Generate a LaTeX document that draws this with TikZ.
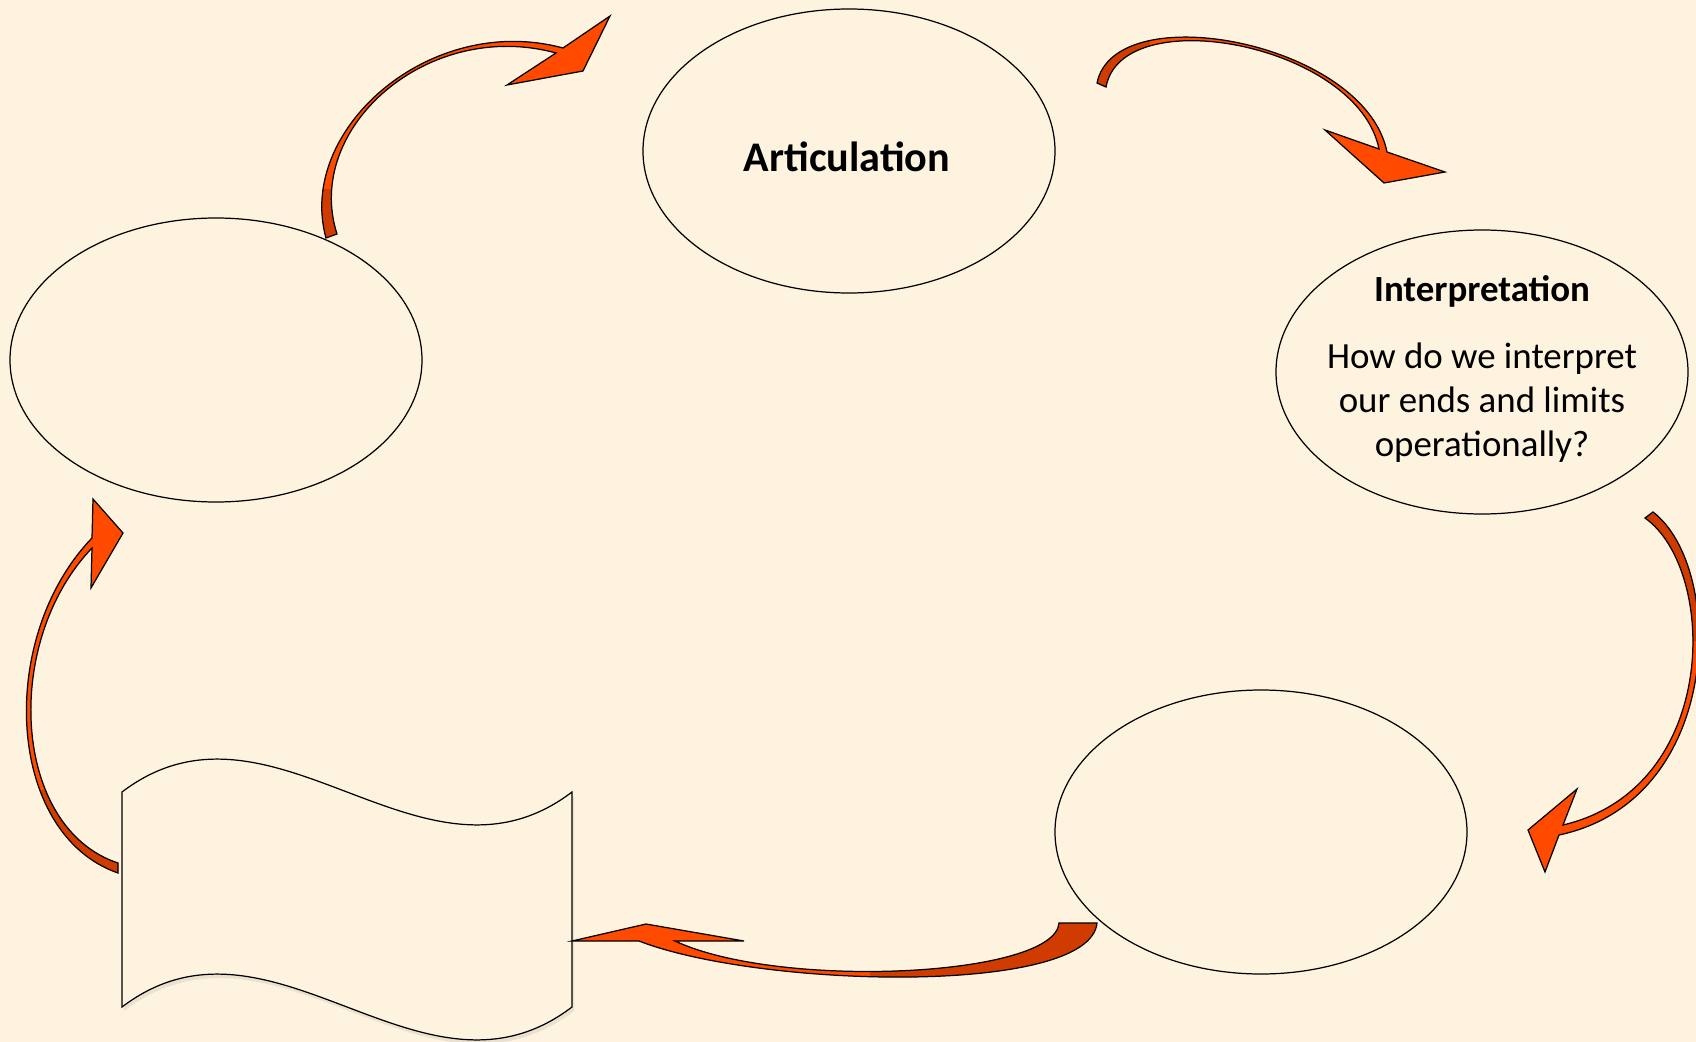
\documentclass[tikz,border=0pt]{standalone}
\usepackage{fontspec}
\setmainfont{Carlito}
\usetikzlibrary{shapes,shadows,positioning}
\definecolor{paper}{RGB}{254,243,223}
\definecolor{arrowred}{RGB}{255,74,0}
\definecolor{arrowdark}{RGB}{208,60,0}

\begin{document}
\begin{tikzpicture}[x=0.2mm,y=-0.2mm]
                \tikzstyle{every node}+=[inner sep=0pt]
                \tikzstyle{bubble}=[draw=black, ellipse, line width=0.7pt, minimum width=82.4mm, minimum height=56.8mm]
                \tikzstyle{ribbon}=[draw=black, line width=0.7pt, line join=miter]
                \fill [paper] (0,0) rectangle (1696,1042);
                \useasboundingbox (0,0) rectangle (1696,1042);
                \node [bubble] (artic) at (849,151) {};
                \node [font=\fontsize{24}{29}\selectfont\bfseries, anchor=base] (articText) at (847,172) {Articulation};
                \node [bubble] (interp) at (1482,372) {};
                \node [font=\fontsize{21}{25}\selectfont, align=center] (interpText) at ([yshift=0.6mm]interp.center) {\textbf{Interpretation}\\[13pt]How do we interpret\\our ends and limits\\operationally?};
                \node [bubble] (lower) at (1261,832) {};
                \node [bubble] (left) at (216,360) {};
                \draw [black, line width=0.7pt, fill=paper, drop shadow={opacity=0.15, shadow xshift=0.4mm, shadow yshift=-0.8mm}] (122,792) .. controls (272,678) and (422,906) .. (572,792) -- (572,1007) .. controls (422,1121) and (272,893) .. (122,1007) -- cycle;
                \def\arrowA{(326,238) .. controls (296,130) and (430,12) .. (563,48) -- (610,16) -- (583,71) -- (507,85) -- (556,53) .. controls (428,18) and (303,128) .. (337,234) -- cycle}
                \def\arrowB{(1097,83) .. controls (1115,-5) and (1365,42) .. (1387,152) -- (1445,172) -- (1384,183) -- (1325,130) -- (1379,149) .. controls (1358,44) and (1122,0) .. (1106,87) -- cycle}
                \def\arrowC{(1653,512) .. controls (1726,568) and (1724,800) .. (1559,835) -- (1545,872) -- (1528,830) -- (1577,789) -- (1563,825) .. controls (1720,788) and (1718,570) .. (1645,518) -- cycle}
                \def\arrowD{(1097,923) .. controls (1090,996) and (760,988) .. (639,941) -- (572,941) -- (646,924) -- (744,941) -- (675,941) .. controls (780,990) and (1055,977) .. (1059,923) -- cycle}
                \def\arrowE{(118,873) .. controls (6,834) and (-4,638) .. (92,538) -- (93,499) -- (123,533) -- (91,588) -- (92,548) .. controls (2,642) and (12,828) .. (118,863) -- cycle}
                \fill [arrowred] \arrowA;
                \fill [arrowred] \arrowB;
                \fill [arrowred] \arrowC;
                \fill [arrowred] \arrowD;
                \fill [arrowred] \arrowE;
                \begin{scope}
                \clip (280,190) rectangle (360,260);
                \fill [arrowdark] \arrowA;
                \end{scope}
                \begin{scope}
                \clip (1080,0) rectangle (1150,100);
                \fill [arrowdark] \arrowB;
                \end{scope}
                \begin{scope}
                \clip (1600,500) rectangle (1696,640);
                \fill [arrowdark] \arrowC;
                \end{scope}
                \begin{scope}
                \clip (870,900) rectangle (1110,1000);
                \fill [arrowdark] \arrowD;
                \end{scope}
                \begin{scope}
                \clip (0,790) rectangle (130,890);
                \fill [arrowdark] \arrowE;
                \end{scope}
                \draw [ribbon] \arrowA;
                \draw [ribbon] \arrowB;
                \draw [ribbon] \arrowC;
                \draw [ribbon] \arrowD;
                \draw [ribbon] \arrowE;
            \end{tikzpicture}
\end{document}
